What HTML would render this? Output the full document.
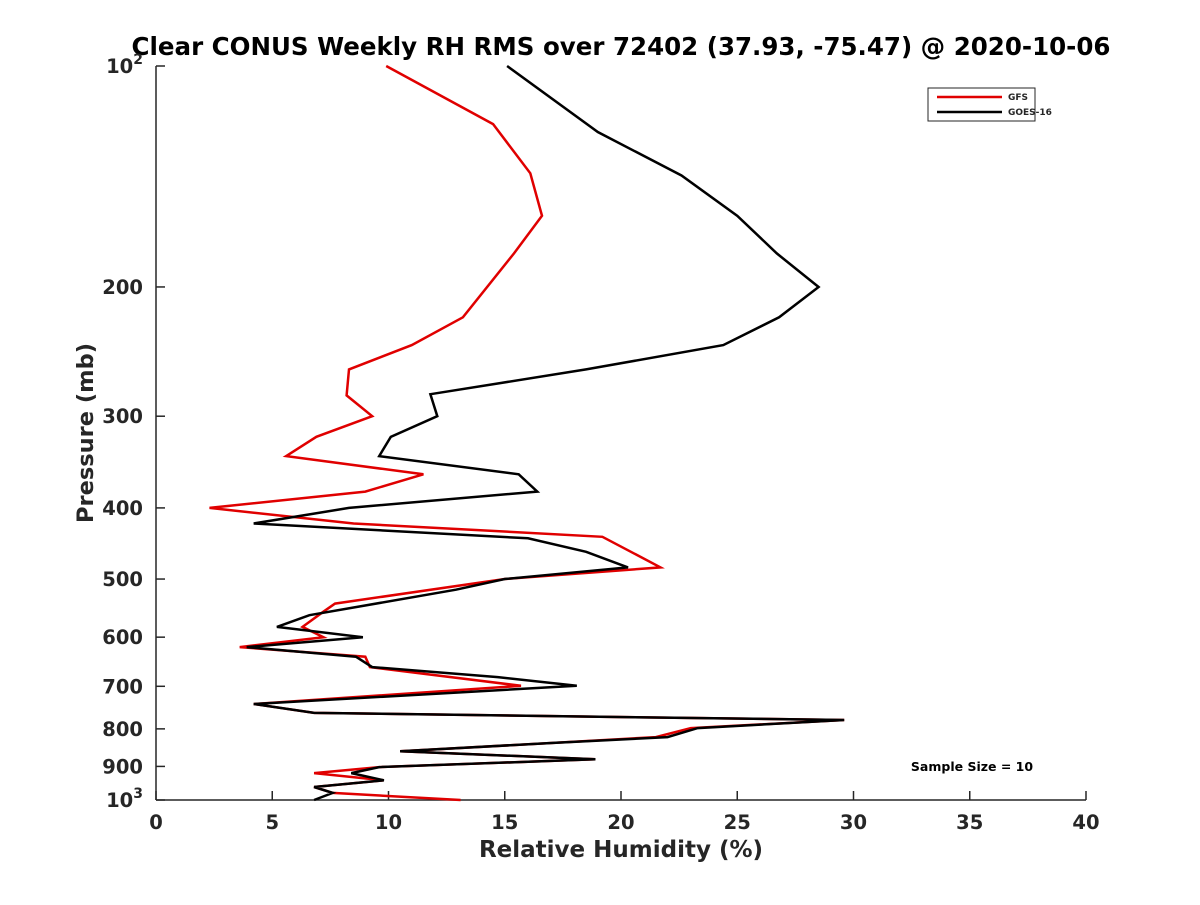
<!DOCTYPE html>
<html><head><meta charset="utf-8"><style>
body{margin:0;background:#fff;}
svg text{font-family:"DejaVu Sans","Liberation Sans",sans-serif;font-weight:bold;fill:#262626;}
</style></head><body>
<svg id="chart" width="1200" height="900" xmlns="http://www.w3.org/2000/svg">
<rect width="1200" height="900" fill="#fff"/>
<text x="621" y="55" font-size="24.5" text-anchor="middle" style="fill:#000">Clear CONUS Weekly RH RMS over 72402 (37.93, -75.47) @ 2020-10-06</text>
<g id="axes"></g>
<g id="series"></g>
<g>
<rect x="928" y="88" width="107" height="33" fill="#fff" stroke="#262626" stroke-width="1"/>
<line x1="937" y1="97" x2="1002" y2="97" stroke="#e00000" stroke-width="2.5"/>
<text x="1008" y="100" font-size="9">GFS</text>
<line x1="937" y1="112" x2="1002" y2="112" stroke="#000" stroke-width="2.5"/>
<text x="1008" y="115" font-size="9">GOES-16</text>
</g>
<text x="972" y="771" font-size="12.5" text-anchor="middle" style="fill:#000">Sample Size = 10</text>
<text x="621" y="857" font-size="23" text-anchor="middle">Relative Humidity (%)</text>
<text transform="translate(93,433) rotate(-90)" font-size="22.5" text-anchor="middle">Pressure (mb)</text>
</svg>
<script>
const xTicks = [0,5,10,15,20,25,30,35,40];
const yTicks = [100,200,300,400,500,600,700,800,900,1000];
const yTickLabels = ["10²","200","300","400","500","600","700","800","900","10³"];
const gfsPressure = [100,120,140,160,180,220,240,259,281,300,320,340,360,380,400,420,438,482,500,540,554,581,600,619,638,659,699,740,761,778,798,821,836,858,880,902,919,940,960,978,1000];
const gfsRH = [9.9,14.5,16.1,16.6,15.4,13.2,11.0,8.3,8.2,9.3,6.9,5.6,11.5,9.0,2.3,8.5,19.2,21.7,15.0,7.7,7.2,6.3,7.2,3.6,9.0,9.2,15.7,4.2,6.8,29.6,23.0,21.5,17.1,10.5,18.9,9.6,6.8,9.8,6.8,7.6,13.1];
const goesPressure = [100,123,141,160,180,200,220,240,259,280,300,320,340,360,380,400,420,440,459,482,500,517,560,581,600,619,638,659,680,699,740,761,778,798,821,836,858,880,902,919,940,960,978,1000];
const goesRH = [15.1,19.0,22.6,25.0,26.7,28.5,26.8,24.4,18.5,11.8,12.1,10.1,9.6,15.6,16.4,8.3,4.2,16.0,18.5,20.3,15.0,12.9,6.6,5.2,8.9,3.9,8.6,9.3,14.7,18.1,4.2,6.8,29.6,23.3,22.0,17.1,10.5,18.9,9.6,8.4,9.8,6.8,7.6,6.8];

const L=156,R=1086,T=66,B=800;
const xs=v=>L+(v-0)/(40-0)*(R-L);
const ys=p=>T+(Math.log10(p)-2)/1*(B-T);
const NS="http://www.w3.org/2000/svg";
function mk(tag,attrs,parent){const e=document.createElementNS(NS,tag);for(const k in attrs)e.setAttribute(k,attrs[k]);parent.appendChild(e);return e;}
const ax=document.getElementById('axes');
const xl=mk('line',{x1:L,y1:B,x2:R,y2:B,stroke:'#262626','stroke-width':1.5},ax);


const yl=mk('line',{x1:L,y1:T,x2:L,y2:B,stroke:'#262626','stroke-width':1.5},ax);


xTicks.forEach(v=>{
  const t=mk('line',{x1:xs(v),y1:B,x2:xs(v),y2:B-9,stroke:'#262626','stroke-width':1.5},ax);
  
  
  const tx=mk('text',{x:xs(v),y:B+29,'font-size':19.5,'text-anchor':'middle'},ax);
  tx.textContent=v;
  
  
});
yTicks.forEach((p,i)=>{
  const t=mk('line',{x1:L,y1:ys(p),x2:L+9,y2:ys(p),stroke:'#262626','stroke-width':1.5},ax);
  
  
  const tx=mk('text',{x:L-13,y:ys(p)+7,'font-size':19.5,'text-anchor':'end'},ax);
  const lab=yTickLabels[i];
  if(lab.startsWith('10')&&lab.length===3){tx.textContent='10';const s=mk('tspan',{dy:-9,'font-size':14},tx);s.textContent=lab==='10²'?'2':'3';}
  else tx.textContent=lab;
  
  
});
const sg=document.getElementById('series');
function draw(P,V,color,name){
  const pts=P.map((p,i)=>xs(V[i]).toFixed(1)+','+ys(p).toFixed(1)).join(' ');
  const pl=mk('polyline',{points:pts,fill:'none',stroke:color,'stroke-width':2.5,'stroke-linejoin':'miter'},sg);
  
  
}
draw(gfsPressure,gfsRH,'#e00000','gfs-line');
draw(goesPressure,goesRH,'#000','goes16-line');
</script>
</body></html>
